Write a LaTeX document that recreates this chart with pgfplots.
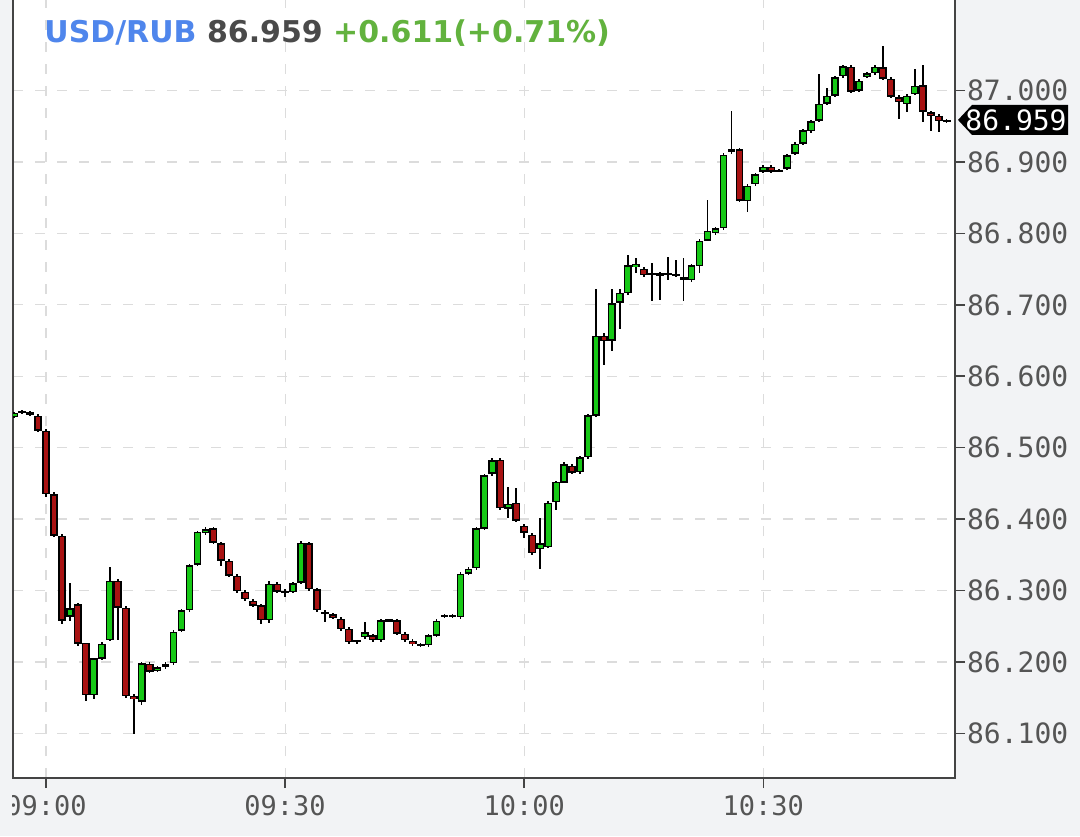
\documentclass[border=0pt]{standalone}
\usepackage{fontspec}
\setmainfont{DejaVu Sans}
\newfontfamily\tickfont{DejaVu Sans Mono}
\usepackage{pgfplots}
\usepackage{pgfplotstable}
\pgfplotsset{compat=1.18}

\definecolor{bggray}{HTML}{F2F3F5}
\definecolor{gridgray}{HTML}{DCDCDC}
\definecolor{axisgray}{HTML}{444444}
\definecolor{labelgray}{HTML}{555555}
\definecolor{upgreen}{HTML}{16C816}
\definecolor{downred}{HTML}{A81212}
\definecolor{tblue}{HTML}{4F86EC}
\definecolor{tgray}{HTML}{4A4A4A}
\definecolor{tgreen}{HTML}{62B23E}

% error bars drawn as candle parts: colour, width
\pgfplotsset{
  candle/.style 2 args={draw=none, mark=none,
    error bars/.cd, y dir=both, y explicit, error mark=none,
    error bar style={draw=#1, line width=#2, solid}},
}

% 1-minute candles, t = minutes after 09:00, k = 1 rising, 0 falling
\pgfplotstableread{
t o h l c k
-4 86.545 86.552 86.543 86.550 1
-3 86.550 86.553 86.548 86.550 1
-2 86.550 86.552 86.544 86.546 0
-1 86.546 86.548 86.523 86.525 0
0 86.525 86.527 86.432 86.436 0
1 86.436 86.438 86.375 86.378 0
2 86.378 86.380 86.254 86.259 0
3 86.263 86.312 86.258 86.275 1
4 86.281 86.283 86.223 86.226 0
5 86.226 86.228 86.146 86.153 0
6 86.153 86.207 86.150 86.205 1
7 86.205 86.228 86.203 86.226 1
8 86.231 86.333 86.229 86.315 1
9 86.315 86.317 86.231 86.277 0
10 86.277 86.279 86.151 86.153 0
11 86.153 86.156 86.100 86.148 0
12 86.144 86.200 86.140 86.198 1
13 86.198 86.200 86.185 86.187 0
14 86.187 86.194 86.185 86.192 1
15 86.194 86.201 86.192 86.198 1
16 86.198 86.244 86.196 86.242 1
17 86.244 86.275 86.242 86.273 1
18 86.273 86.338 86.271 86.336 1
19 86.336 86.384 86.334 86.382 1
20 86.382 86.389 86.378 86.387 1
21 86.387 86.389 86.365 86.367 0
22 86.367 86.369 86.335 86.343 0
23 86.343 86.345 86.320 86.322 0
24 86.322 86.324 86.297 86.300 0
25 86.300 86.302 86.287 86.289 0
26 86.287 86.289 86.278 86.280 0
27 86.280 86.282 86.255 86.259 0
28 86.259 86.313 86.255 86.310 1
29 86.310 86.312 86.297 86.299 0
30 86.299 86.302 86.291 86.298 0
31 86.299 86.313 86.297 86.311 1
32 86.311 86.370 86.309 86.367 1
33 86.367 86.369 86.301 86.303 0
34 86.303 86.305 86.271 86.273 0
35 86.270 86.272 86.256 86.268 0
36 86.268 86.270 86.261 86.263 0
37 86.262 86.264 86.245 86.247 0
38 86.247 86.249 86.226 86.228 0
39 86.229 86.231 86.226 86.229 1
40 86.235 86.256 86.233 86.242 1
41 86.238 86.240 86.229 86.231 0
42 86.231 86.261 86.229 86.259 1
43 86.259 86.261 86.257 86.259 1
44 86.259 86.261 86.238 86.240 0
45 86.240 86.242 86.229 86.231 0
46 86.231 86.233 86.224 86.226 0
47 86.225 86.227 86.222 86.224 0
48 86.224 86.240 86.222 86.238 1
49 86.238 86.261 86.236 86.259 1
50 86.264 86.268 86.262 86.266 1
51 86.266 86.268 86.262 86.264 0
52 86.263 86.326 86.261 86.324 1
53 86.324 86.333 86.322 86.331 1
54 86.331 86.389 86.329 86.387 1
55 86.387 86.464 86.385 86.462 1
56 86.464 86.487 86.462 86.483 1
57 86.483 86.485 86.413 86.415 0
58 86.415 86.445 86.401 86.422 1
59 86.424 86.444 86.397 86.399 0
60 86.392 86.394 86.375 86.382 0
61 86.378 86.380 86.350 86.352 0
62 86.359 86.403 86.331 86.367 1
63 86.362 86.426 86.360 86.424 1
64 86.424 86.454 86.413 86.452 1
65 86.452 86.480 86.451 86.478 1
66 86.476 86.478 86.464 86.466 0
67 86.466 86.489 86.464 86.487 1
68 86.487 86.548 86.485 86.546 1
69 86.546 86.723 86.544 86.658 1
70 86.658 86.660 86.616 86.651 0
71 86.651 86.723 86.637 86.703 1
72 86.703 86.723 86.667 86.717 1
73 86.717 86.770 86.715 86.756 1
74 86.754 86.766 86.745 86.759 1
75 86.751 86.753 86.740 86.742 0
76 86.744 86.759 86.707 86.745 1
77 86.744 86.746 86.707 86.740 0
78 86.744 86.767 86.735 86.745 1
79 86.742 86.763 86.740 86.743 1
80 86.739 86.767 86.707 86.738 0
81 86.735 86.758 86.733 86.756 1
82 86.756 86.793 86.745 86.791 1
83 86.791 86.847 86.789 86.805 1
84 86.802 86.811 86.800 86.809 1
85 86.809 86.914 86.807 86.912 1
86 86.915 86.973 86.913 86.919 1
87 86.919 86.921 86.845 86.847 0
88 86.847 86.870 86.831 86.868 1
89 86.870 86.886 86.868 86.884 1
90 86.887 86.896 86.885 86.894 1
91 86.894 86.896 86.885 86.887 0
92 86.888 86.891 86.886 86.889 1
93 86.891 86.912 86.889 86.910 1
94 86.912 86.928 86.910 86.926 1
95 86.926 86.947 86.924 86.945 1
96 86.945 86.961 86.943 86.959 1
97 86.959 87.025 86.957 86.983 1
98 86.983 87.004 86.981 86.994 1
99 86.994 87.022 86.992 87.020 1
100 87.020 87.036 87.018 87.034 1
101 87.034 87.036 86.997 86.999 0
102 87.001 87.017 86.999 87.015 1
103 87.020 87.027 87.018 87.025 1
104 87.025 87.036 87.023 87.034 1
105 87.034 87.064 87.016 87.018 0
106 87.017 87.019 86.990 86.992 0
107 86.992 86.994 86.961 86.985 0
108 86.982 86.996 86.971 86.994 1
109 86.996 87.031 86.994 87.008 1
110 87.008 87.036 86.957 86.971 0
111 86.971 86.973 86.945 86.966 0
112 86.966 86.968 86.943 86.959 0
113 86.959 86.962 86.956 86.959 1
}\candles

\begin{document}
\begin{tikzpicture}
\useasboundingbox (-6.5pt,-29pt) rectangle (533.5pt,389pt);
\clip (-6.5pt,-29pt) rectangle (533.5pt,389pt);
\fill[bggray] (-6.5pt,-29pt) rectangle (533.5pt,389pt);
\begin{axis}[
    at={(0,0)}, anchor=south west,
    scale only axis,
    width=471pt, height=391pt,
    xmin=-4.14, xmax=114.05,
    ymin=86.0374, ymax=87.1326,
    clip mode=individual,
    axis background/.style={fill=white},
    axis line style={draw=axisgray, line width=0.8pt},
    tick align=outside,
    xtick pos=bottom, ytick pos=right,
    yticklabel pos=right,
    major tick length=5pt,
    tick style={draw=axisgray, line width=0.8pt},
    xtick={0,30,60,90},
    xticklabels={09:00,09:30,10:00,10:30},
    ytick={86.1,86.2,86.3,86.4,86.5,86.6,86.7,86.8,86.9,87.0},
    yticklabel style={xshift=-2.5pt, /pgf/number format/fixed, /pgf/number format/fixed zerofill,
        /pgf/number format/precision=3, /pgf/number format/assume math mode=true},
    tick label style={font=\tickfont\fontsize{14}{16}\selectfont, text=labelgray},
    xticklabel style={font=\tickfont\fontsize{13.5}{16}\selectfont},
    grid=major,
    major grid style={draw=gridgray, line width=0.6pt, dash pattern=on 5pt off 6pt},
  ]
  % wicks
  \addplot[candle={black}{0.85pt}]
    table[x=t, y expr={(\thisrow{h}+\thisrow{l})/2},
          y error expr={(\thisrow{h}-\thisrow{l})/2}] {\candles};
  % body outlines
  \addplot[candle={black}{3.9pt}]
    table[x=t, y expr={(\thisrow{o}+\thisrow{c})/2},
          y error expr={max(abs(\thisrow{c}-\thisrow{o})/2,0.0015)}] {\candles};
  % rising bodies
  \addplot[restrict expr to domain={\thisrow{k}}{0.5:1.5}, candle={upgreen}{2.4pt}]
    table[x=t, y expr={(\thisrow{o}+\thisrow{c})/2},
          y error expr={max(abs(\thisrow{c}-\thisrow{o})/2-0.002,0)}] {\candles};
  % falling bodies
  \addplot[restrict expr to domain={\thisrow{k}}{-0.5:0.5}, candle={downred}{2.4pt}]
    table[x=t, y expr={(\thisrow{o}+\thisrow{c})/2},
          y error expr={max(abs(\thisrow{c}-\thisrow{o})/2-0.002,0)}] {\candles};

  \node[anchor=base west, inner sep=0pt, font=\bfseries\fontsize{15}{17}\selectfont]
    at (axis cs:-0.25,87.068)
    {\textcolor{tblue}{USD/RUB} \textcolor{tgray}{86.959} \textcolor{tgreen}{+0.611(+0.71\%)}};
  \coordinate (lp) at ({rel axis cs:1,0}|-{axis cs:0,86.959});
\end{axis}
% last price tag
\fill[black] (lp) ++(1.5pt,0) -- ++(7pt,7.5pt) -- ++(48pt,0) -- ++(0,-15pt) -- ++(-48pt,0) -- cycle;
\node[text=white, font=\tickfont\fontsize{14}{16}\selectfont, inner sep=0pt] at ([xshift=30.5pt]lp) {86.959};
% left strip hides the part of the first time label that lies outside the plot
\fill[bggray] (-6.5pt,-29pt) rectangle (-0.4pt,-0.4pt);
\end{tikzpicture}
\end{document}
